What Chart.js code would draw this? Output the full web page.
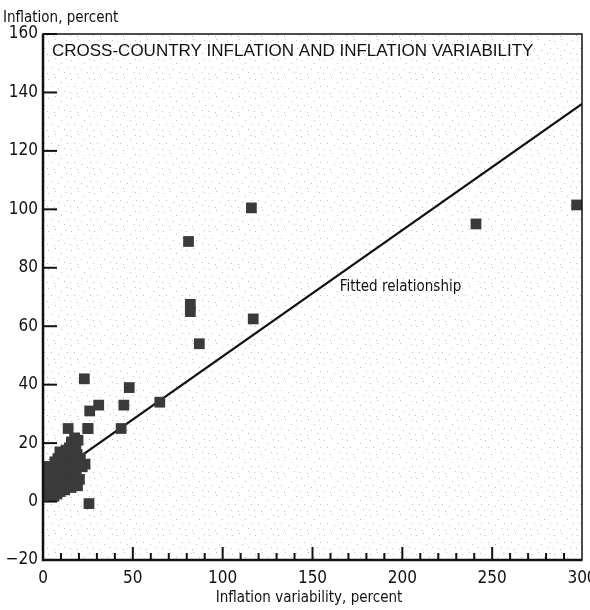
<!DOCTYPE html>
<html>
<head>
<meta charset="utf-8">
<script src="https://cdn.jsdelivr.net/npm/chart.js@4.4.1/dist/chart.umd.min.js"></script>
<style>
  html, body { margin: 0; padding: 0; background: #fff; }
  #wrap { width: 590px; height: 610px; position: relative; }
</style>
</head>
<body>
<div id="wrap"><canvas id="chart" width="590" height="610"></canvas></div>
<script>
// 各国数据（通胀波动率, 通胀率）
const inflVar = [
  297, 241, 116, 117, 81, 82, 82, 87, 65, 48, 45, 43.5, 31, 26, 25, 23, 25.6, 14, 25,
  3.2, 4.5, 6.1, 7.8, 9.5, 3.5, 5.2, 7.0, 8.6, 10.4, 12.1, 13.9, 15.6, 17.3, 19.2,
  2.8, 4.6, 6.3, 8.0, 9.8, 11.5, 13.2, 15.0, 16.7, 18.5, 20.3,
  3.9, 5.7, 7.4, 9.1, 10.9, 12.6, 14.4, 16.1, 17.9, 19.7, 21.8, 23.4,
  6.6, 8.3, 10.1, 11.9, 13.6, 15.4, 17.2, 19.0, 20.8,
  9.4, 12.8, 14.7, 16.5, 18.3, 15.8, 17.6, 19.5, 1.5, 1.2, 2.0
];
const inflation = [
  101.5, 95, 100.5, 62.5, 89, 65, 67.5, 54, 34, 39, 33, 25, 33, 31, 25, 42, -0.7, 25, 25,
  2.1, 3.0, 1.8, 2.6, 3.4, 4.6, 5.5, 4.4, 6.0, 5.2, 4.0, 5.8, 4.8, 6.3, 5.4,
  7.2, 8.1, 7.0, 8.6, 7.5, 9.0, 7.8, 9.4, 8.2, 9.8, 7.6,
  10.3, 11.4, 10.0, 11.8, 10.6, 12.2, 11.0, 12.6, 11.3, 13.0, 11.9, 12.8,
  13.6, 14.7, 13.4, 15.2, 14.0, 15.6, 14.3, 16.1, 14.8,
  17.0, 17.6, 18.4, 17.1, 19.2, 20.4, 21.8, 21.0, 5.0, 9.5, 12.0
];
// 拟合线
const fitX = [0, 300];
const fitY = [6.5, 136.1];
// 刻度
const xTicks = [0, 50, 100, 150, 200, 250, 300];
const yTicks = [-20, 0, 20, 40, 60, 80, 100, 120, 140, 160];

const narrow = '"Liberation Sans Narrow", "DejaVu Sans Condensed", "Liberation Sans", sans-serif';

// 点状背景纹理
function makeStipple() {
  const c = document.createElement('canvas');
  c.width = 23; c.height = 19;
  const g = c.getContext('2d');
  g.fillStyle = '#fff';
  g.fillRect(0, 0, c.width, c.height);
  g.fillStyle = '#bdbdbd';
  const dots = [[2,3],[9,1],[15,6],[20,2],[5,10],[12,12],[18,15],[1,16],[8,17],[21,10]];
  dots.forEach(d => g.fillRect(d[0], d[1], 1, 1));
  return c;
}

const framePlugin = {
  id: 'frame',
  beforeDatasetsDraw(chart) {
    const { ctx, chartArea: a } = chart;
    ctx.save();
    ctx.fillStyle = ctx.createPattern(makeStipple(), 'repeat');
    ctx.fillRect(a.left, a.top, a.right - a.left, a.bottom - a.top);
    ctx.restore();
  },
  afterDatasetsDraw(chart) {
    const { ctx, chartArea: a, scales } = chart;
    const xs = scales.x, ys = scales.y;
    ctx.save();
    ctx.strokeStyle = '#111';
    // 外框
    ctx.lineWidth = 1.5;
    ctx.strokeRect(a.left, a.top, a.right - a.left, a.bottom - a.top);
    ctx.lineWidth = 2.5;
    ctx.beginPath();
    ctx.moveTo(a.left, a.top); ctx.lineTo(a.left, a.bottom); ctx.lineTo(a.right, a.bottom);
    ctx.stroke();
    // y 轴刻度（向内）
    ctx.lineWidth = 2;
    yTicks.forEach(v => {
      const py = ys.getPixelForValue(v);
      ctx.beginPath(); ctx.moveTo(a.left, py); ctx.lineTo(a.left + 14, py); ctx.stroke();
    });
    // x 轴刻度（向内）
    for (let v = 10; v < 300; v += 10) {
      const px = xs.getPixelForValue(v);
      const len = v % 50 === 0 ? 13 : 7;
      ctx.lineWidth = 2;
      ctx.beginPath(); ctx.moveTo(px, a.bottom); ctx.lineTo(px, a.bottom - len); ctx.stroke();
    }
    // 标题
    ctx.fillStyle = '#111';
    let size = 17;
    const title = 'CROSS-COUNTRY INFLATION AND INFLATION VARIABILITY';
    ctx.font = size + 'px "Liberation Sans", Arial, sans-serif';
    while (ctx.measureText(title).width > 524 && size > 10) {
      size -= 0.25;
      ctx.font = size + 'px "Liberation Sans", Arial, sans-serif';
    }
    ctx.textBaseline = 'middle';
    ctx.textAlign = 'left';
    ctx.fillText(title, a.left + 9, a.top + 17);
    // 拟合线标注
    ctx.font = '15px ' + narrow;
    ctx.textAlign = 'center';
    ctx.fillText('Fitted relationship', xs.getPixelForValue(199), ys.getPixelForValue(73.5));
    // 轴标题
    ctx.font = '15px ' + narrow;
    ctx.textAlign = 'left';
    ctx.fillText('Inflation, percent', 3, 18);
    ctx.textAlign = 'center';
    ctx.fillText('Inflation variability, percent', 309, 598);
    ctx.restore();
  }
};

const ctx = document.getElementById('chart').getContext('2d');
new Chart(ctx, {
  type: 'scatter',
  data: {
    datasets: [
      {
        label: 'Fitted relationship',
        type: 'line',
        data: fitX.map((x, i) => ({ x: x, y: fitY[i] })),
        borderColor: '#111',
        borderWidth: 2.2,
        pointRadius: 0,
        fill: false,
        order: 2
      },
      {
        label: 'Countries',
        data: inflVar.map((x, i) => ({ x: x, y: inflation[i] })),
        pointStyle: 'rect',
        pointRadius: 7.6,
        backgroundColor: '#3a3a3a',
        borderWidth: 0,
        order: 1
      }
    ]
  },
  options: {
    responsive: false,
    animation: false,
    layout: { padding: { top: 34, right: 8, left: 0, bottom: 0 } },
    plugins: {
      legend: { display: false },
      tooltip: { enabled: false }
    },
    scales: {
      x: {
        type: 'linear',
        min: 0, max: 300,
        afterBuildTicks: s => { s.ticks = xTicks.map(v => ({ value: v })); },
        afterFit: s => { s.height = 50; s.paddingRight = 0; s.paddingLeft = 0; },
        grid: { display: false, drawTicks: false },
        border: { display: false },
        ticks: { color: '#111', padding: 8, font: { family: narrow, size: 17 } }
      },
      y: {
        min: -20, max: 160,
        afterBuildTicks: s => { s.ticks = yTicks.map(v => ({ value: v })); },
        afterFit: s => { s.width = 43; s.paddingTop = 0; s.paddingBottom = 0; },
        grid: { display: false, drawTicks: false },
        border: { display: false },
        ticks: {
          color: '#111', padding: 5, font: { family: narrow, size: 17 },
          callback: v => v < 0 ? '\u2212' + Math.abs(v) : String(v)
        }
      }
    }
  },
  plugins: [framePlugin]
});
</script>
</body>
</html>
